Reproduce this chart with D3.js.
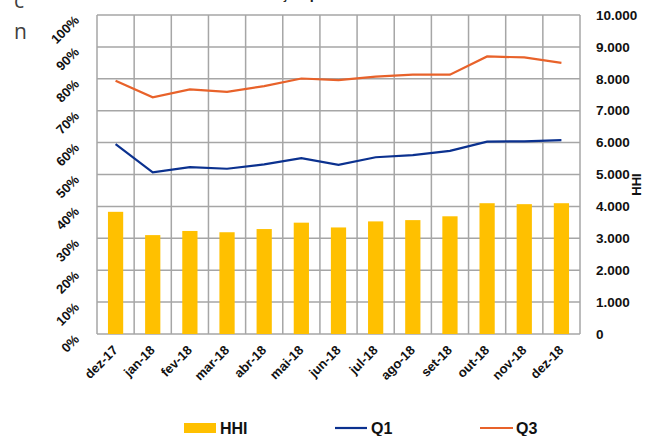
<!DOCTYPE html>
<html>
<head>
<meta charset="utf-8">
<script src="https://cdn.jsdelivr.net/npm/d3@7"></script>
<style>
  body { margin: 0; background: #fff; }
  svg { display: block; font-family: "Liberation Sans", Arial, sans-serif; }
</style>
</head>
<body>
<script>
// data
const months = ['dez-17', 'jan-18', 'fev-18', 'mar-18', 'abr-18', 'mai-18', 'jun-18',
  'jul-18', 'ago-18', 'set-18', 'out-18', 'nov-18', 'dez-18'];
const hhi = [3830, 3100, 3230, 3190, 3290, 3490, 3340, 3530, 3570, 3690, 4100, 4070, 4100];
const q1 = [0.595, 0.507, 0.523, 0.518, 0.532, 0.551, 0.530, 0.554, 0.561, 0.574, 0.603, 0.604, 0.608];
const q3 = [0.794, 0.742, 0.767, 0.759, 0.777, 0.801, 0.796, 0.807, 0.813, 0.813, 0.870, 0.867, 0.850];
const pctTicks = d3.range(0, 1.01, 0.1);
const hhiTicks = d3.range(0, 10001, 1000);

const width = 654;
const height = 436;
const margin = { top: 15, right: 74, bottom: 102, left: 97 };

const colors = { hhi: '#FFC000', q1: '#0B318F', q3: '#E8622A', grid: '#A6A6A6' };

const main = () => {
  const svg = d3.select('body').append('svg').attr('width', width).attr('height', height);

  const x = d3.scaleBand().domain(months).range([margin.left, width - margin.right]);
  const yPct = d3.scaleLinear().domain([0, 1]).range([height - margin.bottom, margin.top]);
  const yHhi = d3.scaleLinear().domain([0, 10000]).range([height - margin.bottom, margin.top]);

  // cropped bits of text from the original page (only descenders show)
  svg.append('text').attr('x', 209).attr('y', -1)
    .attr('font-weight', 'bold').attr('font-size', 14.5).attr('fill', '#222')
    .text('Concentração por receita');
  svg.append('text').attr('x', 14).attr('y', 8)
    .attr('font-family', 'Open Sans').attr('font-size', 21).attr('fill', '#404040')
    .text('c');
  svg.append('text').attr('x', 14).attr('y', 39)
    .attr('font-family', 'Open Sans').attr('font-size', 21).attr('fill', '#404040')
    .text('n');

  // gridlines
  const grid = svg.append('g').attr('stroke', colors.grid).attr('stroke-width', 1.5);
  grid.selectAll('.h').data(pctTicks).join('line')
    .attr('x1', margin.left).attr('x2', width - margin.right)
    .attr('y1', (d) => yPct(d)).attr('y2', (d) => yPct(d));
  const bounds = months.map((m) => x(m)).concat([x.range()[1]]);
  grid.selectAll('.v').data(bounds).join('line')
    .attr('x1', (d) => d).attr('x2', (d) => d)
    .attr('y1', margin.top).attr('y2', height - margin.bottom);

  // bars
  const barW = x.bandwidth() * 0.41;
  svg.append('g').selectAll('rect').data(hhi).join('rect')
    .attr('x', (d, i) => x(months[i]) + x.bandwidth() / 2 - barW / 2)
    .attr('width', barW)
    .attr('y', (d) => yHhi(d))
    .attr('height', (d) => yHhi(0) - yHhi(d))
    .attr('fill', colors.hhi);

  const line = d3.line()
    .x((d, i) => x(months[i]) + x.bandwidth() / 2)
    .y((d) => yPct(d));

  svg.append('path').datum(q3).attr('d', line)
    .attr('fill', 'none').attr('stroke', colors.q3).attr('stroke-width', 2.2);
  svg.append('path').datum(q1).attr('d', line)
    .attr('fill', 'none').attr('stroke', colors.q1).attr('stroke-width', 2.2);

  // left axis labels, rotated
  svg.append('g').selectAll('text').data(pctTicks).join('text')
    .attr('transform', (d) => `translate(80,${yPct(d) + 6}) rotate(-45)`)
    .attr('text-anchor', 'end')
    .attr('font-weight', 'bold').attr('font-size', 13).attr('fill', '#111')
    .text(d3.format('.0%'));

  // right axis labels
  const fmt = (d) => d3.format(',')(d).replace(/,/g, '.');
  svg.append('g').selectAll('text').data(hhiTicks).join('text')
    .attr('x', 596).attr('y', (d) => yHhi(d)).attr('dy', '0.35em')
    .attr('font-weight', 'bold').attr('font-size', 13.5).attr('fill', '#111')
    .text(fmt);

  svg.append('text')
    .attr('transform', `translate(641,${(margin.top + height - margin.bottom) / 2 + 10}) rotate(-90)`)
    .attr('text-anchor', 'middle')
    .attr('font-weight', 'bold').attr('font-size', 13).attr('fill', '#111')
    .text('HHI');

  // x labels
  svg.append('g').selectAll('text').data(months).join('text')
    .attr('transform', (d) => `translate(${x(d) + x.bandwidth() / 2 + 3},351) rotate(-45)`)
    .attr('text-anchor', 'end')
    .attr('font-weight', 'bold').attr('font-size', 13).attr('fill', '#111')
    .text((d) => d);

  // legend
  const leg = svg.append('g').attr('font-weight', 'bold').attr('font-size', 16).attr('fill', '#111');
  leg.append('rect').attr('x', 184).attr('y', 423).attr('width', 32).attr('height', 10).attr('fill', colors.hhi);
  leg.append('text').attr('x', 220).attr('y', 434).text('HHI');
  leg.append('line').attr('x1', 335).attr('x2', 367).attr('y1', 428).attr('y2', 428)
    .attr('stroke', colors.q1).attr('stroke-width', 2.2);
  leg.append('text').attr('x', 371).attr('y', 434).text('Q1');
  leg.append('line').attr('x1', 480).attr('x2', 513).attr('y1', 428).attr('y2', 428)
    .attr('stroke', colors.q3).attr('stroke-width', 2.2);
  leg.append('text').attr('x', 516).attr('y', 434).text('Q3');
};

main();
</script>
</body>
</html>
